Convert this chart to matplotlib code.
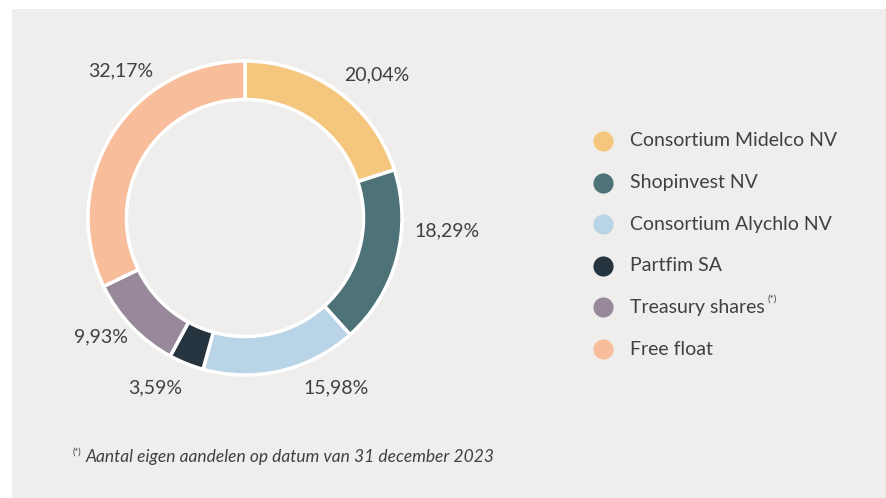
import matplotlib.pyplot as plt
from matplotlib.patches import Rectangle

plt.rcParams['font.family'] = ['Lato', 'DejaVu Sans']

# data
holders = ["Consortium Midelco NV", "Shopinvest NV", "Consortium Alychlo NV",
           "Partfim SA", "Treasury shares", "Free float"]
shares = [20.04, 18.29, 15.98, 3.59, 9.93, 32.17]
colors = ["#f5c77e", "#4d7277", "#b8d4e6", "#25343f", "#978999", "#f8bd9b"]
share_labels = ["20,04%", "18,29%", "15,98%", "3,59%", "9,93%", "32,17%"]
footnote = "Aantal eigen aandelen op datum van 31 december 2023"

# label positions (in units of the ring radius)
label_pos = [(0.84, 0.91), (1.29, -0.08), (0.58, -1.08),
             (-0.57, -1.08), (-0.92, -0.76), (-0.79, 0.94)]

W, H = 887, 498
text_col = "#404040"
bg = "#efeeec"

fig = plt.figure(figsize=(W / 100, H / 100), dpi=100)
fig.patch.set_facecolor("white")
fig.patches.append(Rectangle((12 / W, 0), 1, 1 - 9 / H, transform=fig.transFigure,
                             facecolor=bg, edgecolor="none", zorder=-5))

# donut
cx, cy, r = 245, 218, 157
ax = fig.add_axes([(cx - r) / W, (H - cy - r) / H, 2 * r / W, 2 * r / H])
ax.set_zorder(2)
ax.pie(shares, colors=colors, startangle=90, counterclock=False, radius=1,
       wedgeprops=dict(width=0.245, edgecolor="white", linewidth=2.5))
ax.set_xlim(-1, 1)
ax.set_ylim(-1, 1)
ax.axis("off")
for lab, (x, y) in zip(share_labels, label_pos):
    ax.text(x, y, lab, ha="center", va="center", fontsize=14, color=text_col,
            clip_on=False)

# legend
row0, step = 141, 41.6
for i, (name, c) in enumerate(zip(holders, colors)):
    y = 1 - (row0 + i * step) / H
    fig.add_artist(plt.Line2D([603 / W], [y], marker="o", markersize=14.5,
                              markerfacecolor=c, markeredgecolor="none",
                              transform=fig.transFigure))
    fig.text(630 / W, y, name, ha="left", va="center", fontsize=14,
             color=text_col)
    if name == "Treasury shares":
        fig.text(768 / W, y + 8 / H, "(*)", ha="left", va="center",
                 fontsize=7, color=text_col)

# footnote
fig.text(73 / W, 1 - 452 / H, "(*)", ha="left", va="center", fontsize=6.5,
         color=text_col)
fig.text(86 / W, 1 - 457 / H, footnote, ha="left", va="center", fontsize=12.5,
         style="italic", color=text_col)

fig.savefig("out.png", dpi=100, facecolor=fig.get_facecolor())
